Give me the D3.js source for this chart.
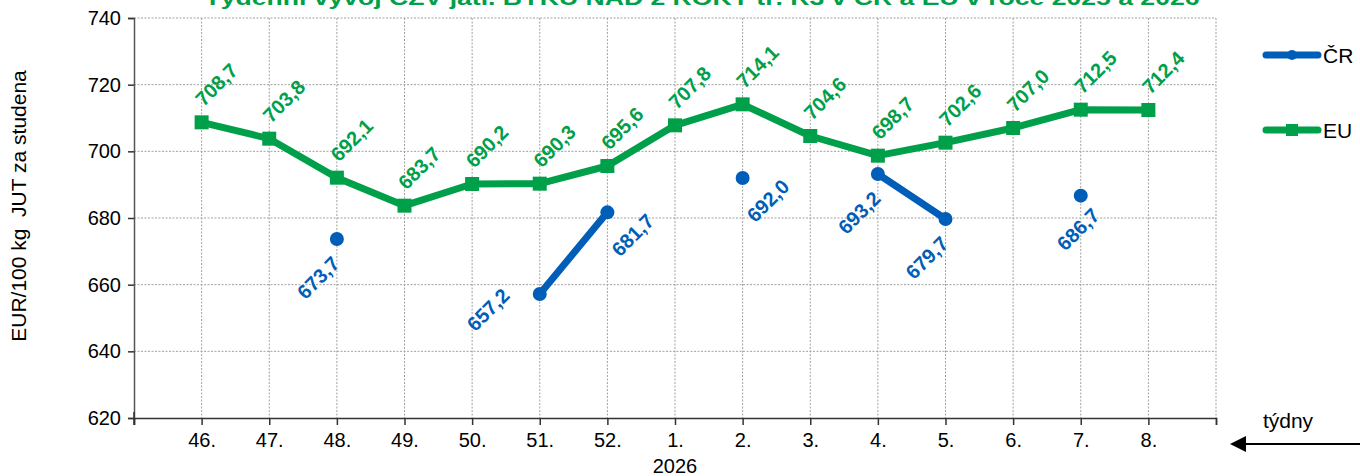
<!DOCTYPE html>
<html>
<head>
<meta charset="utf-8">
<script src="https://cdn.jsdelivr.net/npm/d3@7"></script>
<style>
  html, body { margin: 0; padding: 0; background: #fff; }
  svg { display: block; font-family: "Liberation Sans", Arial, sans-serif; }
</style>
</head>
<body>
<svg id="chart" width="1360" height="476"></svg>
<script>
// ---- data ----
const weeks = ["46.", "47.", "48.", "49.", "50.", "51.", "52.", "1.", "2.", "3.", "4.", "5.", "6.", "7.", "8."];
const crValues = [null, null, 673.7, null, null, 657.2, 681.7, null, 692.0, null, 693.2, 679.7, null, 686.7, null];
const euValues = [708.7, 703.8, 692.1, 683.7, 690.2, 690.3, 695.6, 707.8, 714.1, 704.6, 698.7, 702.6, 707.0, 712.5, 712.4];
const yTicks = [620, 640, 660, 680, 700, 720, 740];
const seriesNames = ["ČR", "EU"];
const titleText = "Týdenní vývoj CZV jatl. BÝKŮ NAD 2 ROKY tř. R3 v ČR a EU v roce 2025 a 2026";
const yTitle = "EUR/100 kg  JUT za studena";
const yearLabel = "2026";
const xUnit = "týdny";
// label side for ČR data labels (placement keyword per point)
const crLabelSide = { "48.": "below", "51.": "left", "52.": "right", "2.": "right", "4.": "below", "5.": "below", "7.": "belowR" };

// ---- layout ----
const green = "#00A04A", blue = "#005EB8";
const svg = d3.select("#chart");
const pL = 134, pR = 1216, pT = 18, pB = 418;
const FS = 20;

const x = d3.scaleLinear().domain([-1, weeks.length]).range([pL, pR]);
const y = d3.scaleLinear().domain([620, 740]).range([pB, pT]);

// title (clipped at top like the reference)
svg.append("text").attr("x", 702).attr("y", 5).attr("text-anchor", "middle")
  .attr("font-size", 20).attr("font-weight", "bold").attr("fill", green)
  .attr("textLength", 995).attr("lengthAdjust", "spacingAndGlyphs")
  .text(titleText);

// grid
const grid = svg.append("g");
grid.selectAll("line.h").data(yTicks.filter(d => d > 620)).join("line")
  .attr("x1", pL).attr("x2", pR).attr("y1", d => y(d)).attr("y2", d => y(d))
  .attr("stroke", "#a0a0a0").attr("stroke-width", 1).attr("stroke-dasharray", "2,1.5");
const vIdx = d3.range(0, weeks.length + 1);
grid.selectAll("line.v").data(vIdx).join("line")
  .attr("x1", d => x(d)).attr("x2", d => x(d)).attr("y1", pT).attr("y2", pB)
  .attr("stroke", "#a0a0a0").attr("stroke-width", 1).attr("stroke-dasharray", "2,1.5");

// y axis
const yAxis = d3.axisLeft(y).tickValues(yTicks).tickSize(6).tickPadding(7).tickFormat(d3.format("d"));
const gy = svg.append("g").attr("transform", `translate(${pL},0)`).call(yAxis);
gy.select(".domain").attr("stroke", "#555").attr("stroke-width", 1.5);
gy.selectAll(".tick line").attr("stroke", "#333").attr("stroke-width", 1.5);
gy.selectAll(".tick text").attr("font-size", FS).attr("fill", "#000")
  .attr("font-family", "Liberation Sans, Arial, sans-serif");

// x axis
const xAxis = d3.axisBottom(x).tickValues(d3.range(-1, weeks.length + 1)).tickSize(7).tickPadding(8)
  .tickFormat(i => (i >= 0 && i < weeks.length) ? weeks[i] : "");
const gx = svg.append("g").attr("transform", `translate(0,${pB})`).call(xAxis);
gx.select(".domain").attr("stroke", "#333").attr("stroke-width", 1.5);
gx.selectAll(".tick line").attr("stroke", "#333").attr("stroke-width", 1.5);
gx.selectAll(".tick text").attr("font-size", FS).attr("fill", "#000")
  .attr("font-family", "Liberation Sans, Arial, sans-serif");
svg.append("line").attr("x1", pL).attr("x2", pL).attr("y1", pB - 6).attr("y2", pB + 7)
  .attr("stroke", "#333").attr("stroke-width", 1.5);

// year label under "1."
svg.append("text").attr("x", x(weeks.indexOf("1."))).attr("y", 473).attr("text-anchor", "middle")
  .attr("font-size", FS).text(yearLabel);

// y title
svg.append("text").attr("transform", "translate(26,206) rotate(-90)").attr("text-anchor", "middle")
  .attr("font-size", 21).style("white-space", "pre").text(yTitle);

const line = d3.line().defined(d => d.v != null).x(d => x(d.i)).y(d => y(d.v));
const euData = euValues.map((v, i) => ({ i, v, w: weeks[i] }));
const crData = crValues.map((v, i) => ({ i, v, w: weeks[i] }));

// EU line
svg.append("path").datum(euData).attr("d", line).attr("fill", "none")
  .attr("stroke", green).attr("stroke-width", 7).attr("stroke-linejoin", "round");
svg.selectAll("rect.eu").data(euData).join("rect")
  .attr("x", d => x(d.i) - 7).attr("y", d => y(d.v) - 7).attr("width", 14).attr("height", 14)
  .attr("fill", green);

// CR line
svg.append("path").datum(crData).attr("d", line).attr("fill", "none")
  .attr("stroke", blue).attr("stroke-width", 7).attr("stroke-linecap", "round");
svg.selectAll("circle.cr").data(crData.filter(d => d.v != null)).join("circle")
  .attr("cx", d => x(d.i)).attr("cy", d => y(d.v)).attr("r", 7).attr("fill", blue);

const fmt = v => v.toFixed(1).replace(".", ",");

// EU labels
svg.selectAll("text.eul").data(euData).join("text")
  .attr("transform", d => `translate(${x(d.i) + 2},${y(d.v) - 15}) rotate(-45)`)
  .attr("font-size", 20).attr("font-weight", "bold").attr("fill", green)
  .text(d => fmt(d.v));

// CR labels
const sideOff = { below: [4, 26], left: [-29, 3], right: [48, 10], belowR: [20, 21] };
svg.selectAll("text.crl").data(crData.filter(d => d.v != null)).join("text")
  .attr("transform", d => {
    const o = sideOff[crLabelSide[d.w]];
    return `translate(${x(d.i) + o[0]},${y(d.v) + o[1]}) rotate(-45)`;
  })
  .attr("text-anchor", "end")
  .attr("font-size", 20).attr("font-weight", "bold").attr("fill", blue)
  .text(d => fmt(d.v));

// legend
const legend = svg.append("g");
const legY = [55, 130];
const legColors = [blue, green];
seriesNames.forEach((name, k) => {
  legend.append("line").attr("x1", 1266).attr("x2", 1318).attr("y1", legY[k]).attr("y2", legY[k])
    .attr("stroke", legColors[k]).attr("stroke-width", 7).attr("stroke-linecap", "round");
  if (k === 0) legend.append("circle").attr("cx", 1292).attr("cy", legY[k]).attr("r", 5).attr("fill", legColors[k]);
  else legend.append("rect").attr("x", 1286).attr("y", legY[k] - 6).attr("width", 12).attr("height", 12).attr("fill", legColors[k]);
  legend.append("text").attr("x", 1323).attr("y", legY[k] + 8).attr("font-size", 21).text(name);
});

// týdny + arrow
svg.append("text").attr("x", 1288).attr("y", 428).attr("text-anchor", "middle").attr("font-size", 21).text(xUnit);
svg.append("line").attr("x1", 1360).attr("x2", 1244).attr("y1", 444).attr("y2", 444)
  .attr("stroke", "#000").attr("stroke-width", 2);
svg.append("path").attr("d", "M1230,444 L1246,436 L1246,452 Z").attr("fill", "#000");
</script>
</body>
</html>
